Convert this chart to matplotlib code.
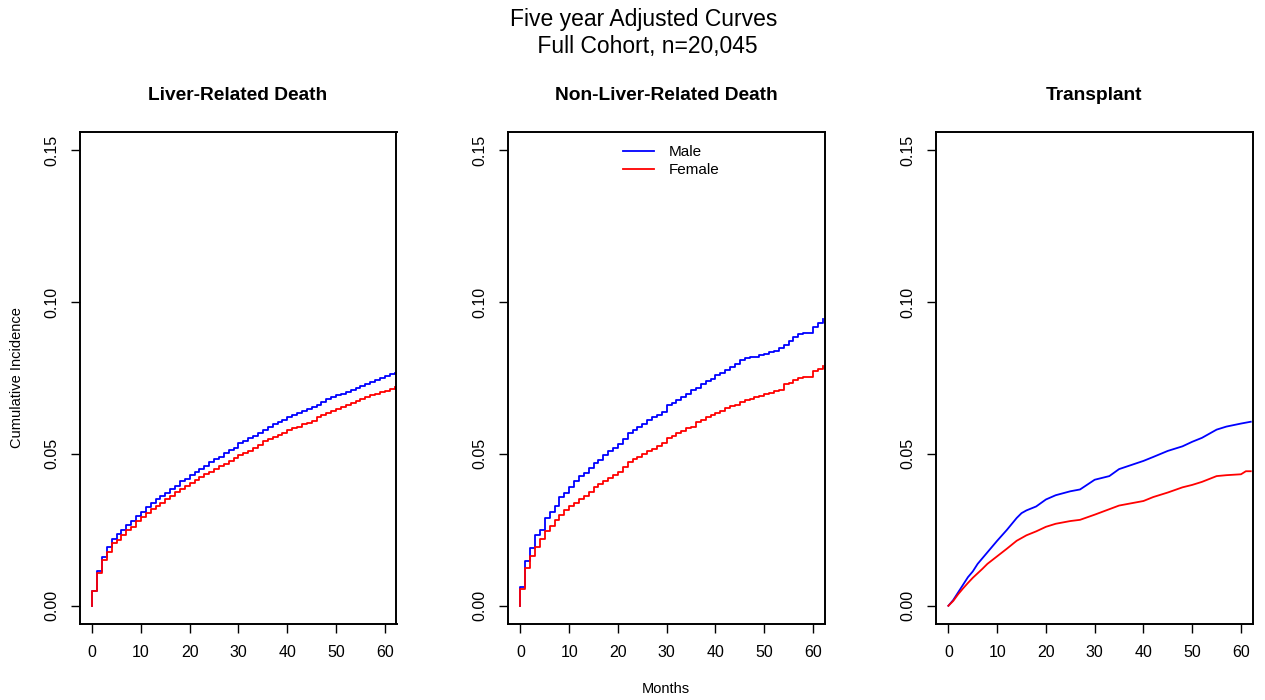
import matplotlib
matplotlib.use("Agg")
import matplotlib.pyplot as plt

plt.rcParams['font.family'] = ['Liberation Sans', 'DejaVu Sans']

suptitle_text = "Five year Adjusted Curves\n Full Cohort, n=20,045"
panel_titles = ["Liver-Related Death", "Non-Liver-Related Death", "Transplant"]
series_names = ["Male", "Female"]
series_colors = ["#0000FF", "#FF0000"]
y_ticks = [0.00, 0.05, 0.10, 0.15]
y_tick_labels = ["0.00", "0.05", "0.10", "0.15"]
x_ticks = [0, 10, 20, 30, 40, 50, 60]
x_label = "Months"
y_label = "Cumulative Incidence"

# monthly step times (months 0..62)
months = list(range(63))

liver_male = [0.0048, 0.0113, 0.016, 0.0195, 0.022, 0.0235, 0.025, 0.0265, 0.028, 0.0297,
              0.031, 0.0325, 0.034, 0.035, 0.0362, 0.0372, 0.0385, 0.0395, 0.041, 0.0418,
              0.043, 0.0442, 0.0452, 0.046, 0.0475, 0.0483, 0.049, 0.0503, 0.0512, 0.052,
              0.0535, 0.0542, 0.0552, 0.056, 0.057, 0.058, 0.0588, 0.0597, 0.0605, 0.0612,
              0.062, 0.0627, 0.0635, 0.064, 0.0648, 0.0655, 0.0662, 0.0672, 0.0682, 0.0687,
              0.0693, 0.0697, 0.0703, 0.0712, 0.0718, 0.0725, 0.073, 0.0738, 0.0745, 0.075,
              0.0755, 0.0762, 0.0768]
liver_female = [0.005, 0.0107, 0.015, 0.0176, 0.0207, 0.0215, 0.0232, 0.0248, 0.026, 0.0278,
                0.0292, 0.0305, 0.0318, 0.033, 0.034, 0.0352, 0.0362, 0.0373, 0.0385, 0.0393,
                0.0405, 0.0415, 0.0425, 0.0435, 0.0442, 0.0452, 0.046, 0.0468, 0.0478, 0.0487,
                0.0495, 0.0502, 0.051, 0.052, 0.053, 0.0542, 0.0548, 0.0556, 0.0563, 0.057,
                0.0578, 0.0585, 0.059, 0.0597, 0.0603, 0.061, 0.062, 0.0628, 0.0635, 0.0642,
                0.0648, 0.0653, 0.066, 0.0667, 0.0673, 0.068, 0.0687, 0.0693, 0.0698, 0.0703,
                0.0708, 0.0715, 0.072]

nonliver_male = [0.0063, 0.0147, 0.0189, 0.0232, 0.025, 0.0289, 0.031, 0.0327, 0.0358, 0.037,
                 0.039, 0.041, 0.0427, 0.0437, 0.0455, 0.047, 0.048, 0.0495, 0.0509, 0.052,
                 0.0534, 0.055, 0.057, 0.058, 0.059, 0.060, 0.0612, 0.062, 0.0628, 0.0638,
                 0.066, 0.0668, 0.0677, 0.0688, 0.0697, 0.071, 0.0718, 0.073, 0.074, 0.0748,
                 0.076, 0.0768, 0.0775, 0.0785, 0.0797, 0.081, 0.0815, 0.0818, 0.082, 0.0825,
                 0.083, 0.0835, 0.084, 0.0848, 0.0858, 0.0872, 0.0885, 0.0895, 0.0898, 0.0898,
                 0.0917, 0.0932, 0.0945]
nonliver_female = [0.0055, 0.0126, 0.0163, 0.0195, 0.022, 0.0245, 0.0264, 0.0283, 0.030, 0.0315,
                   0.0327, 0.034, 0.0352, 0.0362, 0.0375, 0.039, 0.040, 0.041, 0.042, 0.043,
                   0.044, 0.0458, 0.0475, 0.0482, 0.049, 0.050, 0.051, 0.0517, 0.0525, 0.0535,
                   0.0553, 0.056, 0.057, 0.0577, 0.0585, 0.059, 0.0605, 0.0612, 0.062, 0.0627,
                   0.0634, 0.0642, 0.065, 0.0657, 0.0662, 0.0672, 0.0676, 0.068, 0.0687, 0.0692,
                   0.0697, 0.0702, 0.0707, 0.071, 0.0729, 0.0735, 0.0745, 0.075, 0.0752, 0.0754,
                   0.0773, 0.078, 0.079]

transplant_times = [0, 1, 2, 3, 4, 5, 6, 7, 8, 10, 12, 14, 15, 16, 18, 20, 22, 25, 27,
                    30, 33, 35, 40, 42, 45, 48, 50, 52, 55, 57, 60, 61, 62]
transplant_male = [0.0, 0.0019, 0.0044, 0.0069, 0.0094, 0.0113, 0.0138, 0.0157, 0.0176, 0.0214,
                   0.025, 0.0289, 0.0305, 0.0314, 0.0327, 0.035, 0.0364, 0.0377, 0.0383,
                   0.0415, 0.0427, 0.045, 0.0477, 0.049, 0.051, 0.0525, 0.054, 0.0553, 0.058,
                   0.059, 0.060, 0.0603, 0.0606]
transplant_female = [0.0, 0.0016, 0.0038, 0.0057, 0.0075, 0.0092, 0.0107, 0.0122, 0.0138, 0.0163,
                     0.0188, 0.0214, 0.0223, 0.0232, 0.0245, 0.026, 0.027, 0.0279, 0.0283,
                     0.030, 0.0318, 0.033, 0.0345, 0.0358, 0.0373, 0.039, 0.0398, 0.0408, 0.0427,
                     0.043, 0.0433, 0.0443, 0.0443]

fig = plt.figure(figsize=(12.65, 7.0), dpi=100)

lefts = [79.5 / 1265, 507.7 / 1265, 935.7 / 1265]
width = 317 / 1265
bottom = 1 - 624 / 700
height = 492 / 700

panels = [
    ("step", [months, months], [liver_male, liver_female]),
    ("step", [months, months], [nonliver_male, nonliver_female]),
    ("line", [transplant_times, transplant_times], [transplant_male, transplant_female]),
]

axes = []
for i, (kind, xs, ys) in enumerate(panels):
    ax = fig.add_axes([lefts[i], bottom, width, height])
    axes.append(ax)
    for x, y, c, name in zip(xs, ys, series_colors, series_names):
        if kind == "step":
            ax.step([0] + list(x), [0.0] + list(y), where="post", color=c, lw=1.3, label=name)
        else:
            ax.plot(x, y, color=c, lw=1.3, label=name)
    ax.set_xlim(-2.6, 62.4)
    ax.set_ylim(-0.006, 0.156)
    ax.set_xticks(x_ticks)
    ax.set_yticks(y_ticks)
    ax.set_yticklabels(y_tick_labels, rotation=90, va="center")
    ax.tick_params(axis="both", direction="out", length=6.8, width=1.0, labelsize=11.5, pad=8)
    for s in ax.spines.values():
        s.set_linewidth(1.4)
    ax.set_title(panel_titles[i], fontsize=13.8, fontweight="bold", pad=23)

axes[0].set_ylabel(y_label, fontsize=10.5)
axes[0].yaxis.set_label_coords(-0.175, 0.5)
axes[1].set_xlabel(x_label, fontsize=10.5, labelpad=16)

leg = axes[1].legend(loc="upper left", bbox_to_anchor=(0.33, 0.995), frameon=False,
                     fontsize=11, handlelength=2.0, labelspacing=0.25, handletextpad=1.0,
                     borderaxespad=0.3)

fig.text(644 / 1265, 1 - 33 / 700, suptitle_text, ha="center", va="center", fontsize=16.5,
         linespacing=1.25)

fig.savefig("out.png", dpi=100)
